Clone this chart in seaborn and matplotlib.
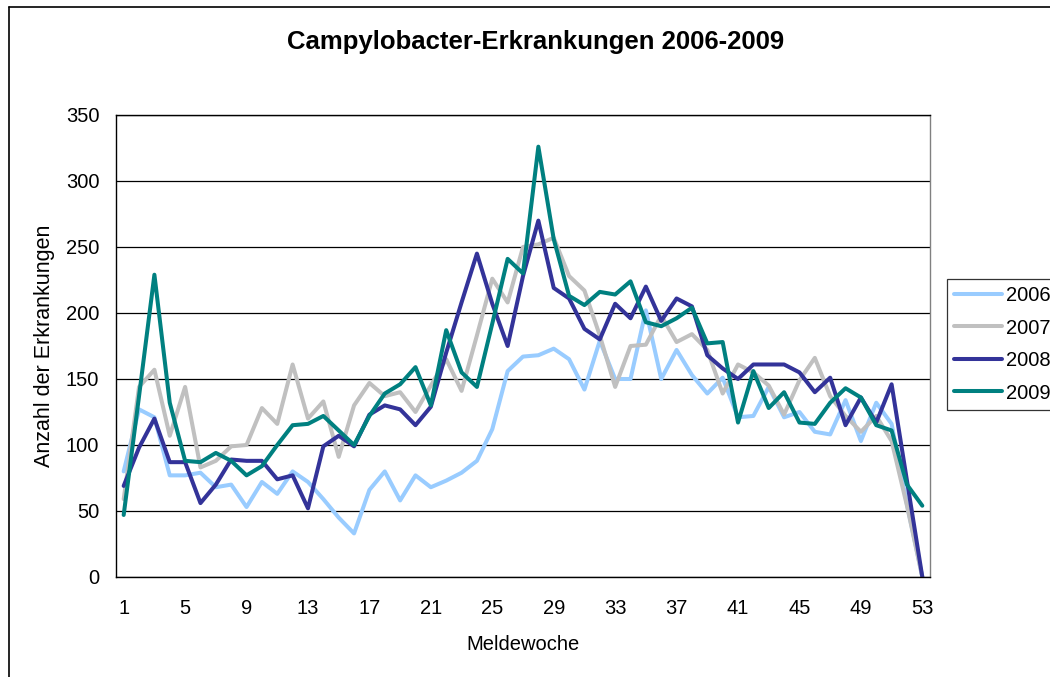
import numpy as np
import pandas as pd
import matplotlib
matplotlib.use("Agg")
import matplotlib.pyplot as plt
import seaborn as sns
from matplotlib.lines import Line2D

weeks = list(range(1, 54))
y2006 = [80, 127, 121, 77, 77, 79, 68, 70, 53, 72, 63, 80, 72, 59, 45, 33, 66, 80, 58, 77,
         68, 73, 79, 88, 112, 156, 167, 168, 173, 165, 142, 179, 150, 150, 202, 150, 172, 153, 139, 151,
         121, 122, 144, 121, 125, 110, 108, 134, 103, 132, 116, 55, 0]
y2007 = [59, 144, 157, 107, 144, 83, 88, 99, 100, 128, 116, 161, 120, 133, 91, 130, 147, 137, 140, 125,
         145, 165, 141, 183, 226, 208, 250, 252, 257, 228, 217, 183, 144, 175, 176, 198, 178, 184, 172, 139,
         161, 155, 145, 123, 149, 166, 137, 122, 110, 122, 103, 54, 0]
y2008 = [69, 98, 120, 87, 87, 56, 70, 89, 88, 88, 74, 77, 52, 99, 107, 99, 123, 130, 127, 115,
         129, 170, 208, 245, 207, 175, 228, 270, 219, 211, 188, 180, 207, 196, 220, 194, 211, 205, 168, 158,
         150, 161, 161, 161, 155, 140, 151, 115, 136, 117, 146, 73, 0]
y2009 = [47, 137, 229, 132, 88, 87, 94, 88, 77, 84, 100, 115, 116, 122, 111, 100, 122, 139, 146, 159,
         130, 187, 155, 144, 192, 241, 230, 326, 256, 213, 206, 216, 214, 224, 193, 190, 196, 204, 177, 178,
         117, 156, 128, 140, 117, 116, 132, 143, 136, 115, 111, 70, 54]
years = ["2006", "2007", "2008", "2009"]
colors = ["#99CCFF", "#C0C0C0", "#333399", "#008080"]

df = pd.DataFrame({"Meldewoche": weeks * 4,
                   "Anzahl": y2006 + y2007 + y2008 + y2009,
                   "Jahr": np.repeat(years, len(weeks))})

sns.set_style("white")
plt.rcParams["font.family"] = ["Liberation Sans", "DejaVu Sans"]
plt.rcParams["text.color"] = "black"
plt.rcParams["axes.labelcolor"] = "black"
plt.rcParams["xtick.color"] = "black"
plt.rcParams["ytick.color"] = "black"

fs = 14.5

fig = plt.figure(figsize=(10.5, 6.77), dpi=100)
ax = fig.add_axes([116 / 1050, 1 - 577 / 677, (930 - 116) / 1050, (577 - 115) / 677])

# outer chart frame (only top and left edges visible)
fig.add_artist(Line2D([9 / 1050, 9 / 1050], [0, 1 - 7 / 677], transform=fig.transFigure, color="black", lw=1.2))
fig.add_artist(Line2D([9 / 1050, 1], [1 - 7 / 677, 1 - 7 / 677], transform=fig.transFigure, color="black", lw=1.2))

sns.lineplot(data=df, x="Meldewoche", y="Anzahl", hue="Jahr", palette=dict(zip(years, colors)),
             linewidth=2.9, ax=ax, legend=False)

ax.set_xlim(0.5, 53.5)
ax.set_ylim(0, 350)
ax.set_yticks(range(0, 351, 50))
ax.yaxis.grid(True, color="black", linewidth=0.9)
ax.set_axisbelow(True)
ax.set_xticks(range(1, 54, 4))
ax.set_xticks(np.arange(0.5, 54, 1), minor=True)
ax.tick_params(axis="x", which="major", length=0, labelsize=fs, pad=16)
ax.tick_params(axis="x", which="minor", length=5, width=0.9, color="black", direction="out")
ax.tick_params(axis="y", length=5, width=0.9, color="black", direction="out", labelsize=fs, pad=7)
for s in ax.spines.values():
    s.set_color("black")
    s.set_linewidth(1.0)
ax.spines["right"].set_color("#808080")

ax.set_xlabel("Meldewoche", fontsize=fs, labelpad=12)
ax.set_ylabel("Anzahl der Erkrankungen", fontsize=15.5, labelpad=8)
fig.text(536 / 1050, 1 - 42 / 677, "Campylobacter-Erkrankungen 2006-2009", ha="center", va="center",
         fontsize=18.5, fontweight="bold")

handles = [Line2D([], [], color=c, lw=2.9) for c in colors]
leg = fig.legend(handles, years, loc="upper left", bbox_to_anchor=(947 / 1050, 1 - 279 / 677),
                 frameon=True, fancybox=False, fontsize=fs, handlelength=2.4, handletextpad=0.2,
                 labelspacing=0.67, borderpad=0.35, borderaxespad=0)
leg.get_frame().set_edgecolor("black")
leg.get_frame().set_linewidth(0.9)

fig.savefig("out.png", dpi=100)
